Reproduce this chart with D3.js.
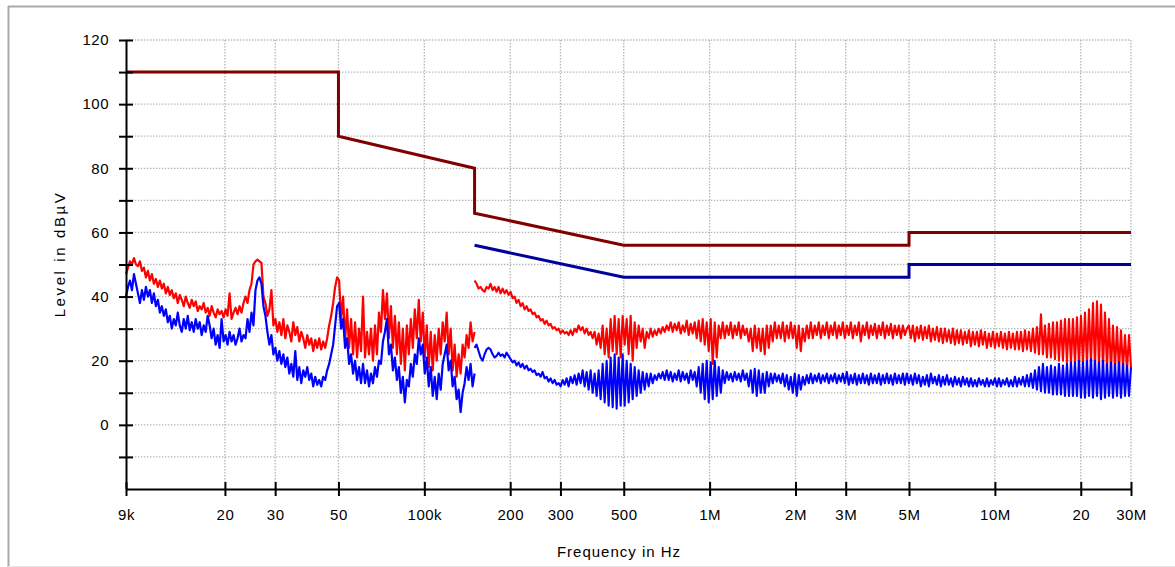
<!DOCTYPE html>
<html>
<head>
<meta charset="utf-8">
<script src="https://cdn.jsdelivr.net/npm/d3@7"></script>
<style>
  html, body { margin: 0; padding: 0; background: #fff; }
  svg { display: block; }
  text { font-family: "Liberation Sans", Arial, sans-serif; fill: #000; }
</style>
</head>
<body>
<svg id="chart" width="1175" height="567"></svg>
<script>
// ---- Frequency axis ------------------------------------------------------
const freqTicksHz = [9e3, 2e4, 3e4, 5e4, 1e5, 2e5, 3e5, 5e5, 1e6, 2e6, 3e6, 5e6, 1e7, 2e7, 3e7];
const freqTickLabels = ["9k", "20", "30", "50", "100k", "200", "300", "500", "1M", "2M", "3M", "5M", "10M", "20", "30M"];

// ---- Level axis ----------------------------------------------------------
const levelTicks = [-10, 0, 10, 20, 30, 40, 50, 60, 70, 80, 90, 100, 110, 120];
const levelTickLabels = ["", "0", "", "20", "", "40", "", "60", "", "80", "", "100", "", "120"];

// ---- Limit lines (CISPR class B conducted) -------------------------------
const qpLimitKHz = [9, 50, 50, 150, 150, 500, 5000, 5000, 30000];
const qpLimitDb  = [110, 110, 90, 80, 66, 56, 56, 60, 60];
const avLimitKHz = [150, 500, 5000, 5000, 30000];
const avLimitDb  = [56, 46, 46, 50, 50];

// ---- Sweeps: levels sampled on a log-spaced frequency grid per band -----
const lowBandKHz  = [9, 150];
const highBandKHz = [150, 30000];

// peak detector, 9 kHz .. 150 kHz
const peakLowDb = [
  47, 49, 51, 50, 52, 50, 49.5, 51, 48, 49,
  46, 48, 45, 47, 44, 45.5, 43, 45, 42.5, 44,
  41, 43, 40.5, 42, 39.5, 41, 38, 40.5, 39, 37,
  40, 38, 36.5, 39, 37, 38.5, 35.5, 37, 36, 38,
  35, 36.5, 34, 37, 35, 33.5, 36, 34.5, 35.5, 33.5,
  36, 34, 41, 33, 35, 36.5, 34.5, 37, 35, 38,
  40, 38, 42, 44, 50, 51, 51.5, 51, 50.5, 40,
  38, 34, 36, 42, 31, 33, 29, 32, 28, 33,
  27, 31, 29, 26, 32, 28, 30.5, 26, 29, 27,
  24, 28, 25, 27, 23, 26.5, 24, 27, 23.5, 26,
  24, 27, 31, 34, 38, 43, 46, 45, 33, 40,
  26, 36, 24, 33, 22, 32, 21, 30, 23, 40,
  21, 29, 22, 30, 20, 31, 22, 35, 29, 42,
  33, 41, 27, 37, 24, 34, 22, 32, 19, 30,
  17, 31, 22, 33, 24, 36, 27, 39, 26, 35,
  21, 31, 18, 29, 17, 28, 20, 30, 22, 32,
  26, 35, 22, 30, 17, 25, 15, 22, 16, 25,
  21, 28, 24, 32, 26, 29
];

// average detector, 9 kHz .. 150 kHz
const avgLowDb = [
  40, 43, 45, 42, 47, 44, 41, 38, 42, 39,
  43, 40, 42, 38, 41, 37, 39, 35, 37, 34,
  36, 32, 34, 30, 33, 31, 35, 31, 29, 33,
  30, 34, 29.5, 32, 29, 33, 30, 32, 28, 31,
  29, 34, 31, 27, 30, 25, 28, 24, 33, 26,
  28, 25, 29, 26, 28, 25, 27, 30, 26, 28,
  27, 33, 29, 35, 31, 42, 45, 46, 44, 37,
  34, 29, 25, 28, 22, 24, 20, 23, 19, 22,
  18, 21, 16, 19, 15, 23, 14, 18, 13, 17,
  15, 18, 14, 16, 12, 15, 12.5, 14, 12, 15,
  14, 17, 19, 22, 25, 31, 37, 38, 30, 33,
  24, 27, 19, 22, 16, 20, 14, 18, 13, 19,
  13, 17, 12, 16, 13, 18, 15, 20, 19, 26,
  29, 33, 22, 25, 17, 21, 14, 18, 10, 15,
  7, 14, 12, 19, 15, 22, 19, 27, 22, 25,
  16, 21, 12, 18, 9, 15, 8, 16, 11, 19,
  22, 25, 17, 20, 12, 15, 8, 11, 4, 10,
  13, 18, 14, 19, 12, 16
];

// peak detector, 150 kHz .. 30 MHz
const peakHighDb = [
  45, 44, 42.5, 43, 42, 41.5, 43, 42.5, 44, 42,
  43, 41.5, 43, 41, 42.5, 41, 42, 40.5, 41.5, 39.5,
  40, 38, 39, 37, 38, 36, 37, 35.5, 36, 34.5,
  35, 33.5, 34, 32.5, 33, 31.5, 32.5, 31, 31.5, 30,
  30.5, 29.5, 30, 28.5, 29.5, 28.5, 29, 28, 29.5, 28,
  30, 29, 31, 29.5, 30.5, 28.5, 30, 28, 29, 27,
  29, 25, 28.5, 24, 31, 22, 30, 21, 33, 23,
  34, 22, 33, 21, 34, 25, 33, 22, 34, 20,
  32, 24, 31, 26, 30, 24, 29, 27, 30, 27.5,
  29.5, 28, 30, 28.5, 30.5, 29, 31, 29.5, 32, 29,
  31.5, 29.5, 32, 28.5, 31, 29, 32.5, 28, 31.5, 28.5,
  32, 27, 32.5, 26, 33, 25, 32, 23, 33, 19,
  32, 21, 31, 27, 32, 27, 31, 28, 32, 27,
  31, 28, 32, 27, 31, 28, 30, 26, 30, 23,
  31, 24, 30, 23, 30, 22, 31, 24, 31, 26,
  32, 27, 31, 27, 32, 26, 31, 27, 32, 27,
  31, 24, 31, 23, 30, 26, 31, 27, 32, 27,
  31, 28, 32, 27, 31, 28, 32, 27, 31, 28,
  32, 27, 31, 28, 32, 27, 31, 28, 32, 27,
  31, 28, 32, 26, 31, 28, 32, 27, 31, 28,
  31.5, 27, 31, 28, 32, 27, 31, 28, 31.5, 27,
  31, 28, 31, 27, 31, 28, 30, 31, 27, 31,
  26, 30.5, 27, 31, 26.5, 30.5, 27, 31, 26, 30,
  26.5, 30.5, 26, 30, 25.5, 30, 26, 29.5, 25.5, 30,
  25, 29.5, 25.5, 29.5, 25, 29, 25.5, 29.5, 24.5, 29,
  25, 29, 24.5, 29.5, 25, 29, 24, 28.5, 24.5, 29,
  24, 28.5, 24.5, 29, 24, 28.5, 23.5, 29, 24, 28.5,
  23.5, 29, 23.5, 29, 23, 29.5, 23.5, 29, 23, 30,
  22.5, 30.5, 22, 34.5, 22, 31, 21, 31.5, 21, 32,
  20.5, 32, 20, 32.5, 20, 33, 19.5, 33, 19, 33,
  19, 33.5, 18.5, 34, 19, 35, 18.5, 36, 19, 38,
  18, 38.5, 18, 37.5, 17.5, 35, 17.5, 33, 17, 31,
  17.5, 30.5, 17, 29.5, 17.5, 28, 17, 28, 18
];

// average detector, 150 kHz .. 30 MHz
const avgHighDb = [
  24, 25, 23, 21, 20, 22, 23.5, 24, 23.5, 22,
  21, 21.5, 22.5, 21.5, 22, 21, 22.5, 21.5, 20.5, 19.5,
  20, 18.5, 19.5, 18, 19, 17.5, 18.5, 17, 17.5, 16.5,
  17, 15.5, 16, 15, 16.5, 14.5, 15, 13.5, 14.5, 13,
  14, 12.5, 13, 12, 14, 12.5, 14.5, 12, 15, 13,
  15.5, 12.5, 16, 13, 17, 12, 16.5, 11, 17, 10,
  16, 9, 17, 8, 19, 7, 20, 6, 21, 5.5,
  22, 5, 21, 6, 22, 6, 20, 7, 19, 8,
  18, 9, 17, 10, 16.5, 11, 16, 12, 16, 13,
  15.5, 14, 16, 14.5, 16.5, 14, 17, 14, 16.5, 13.5,
  16, 14, 17, 13.5, 16.5, 14, 16, 13, 17, 14,
  16.5, 12, 18, 10, 19, 8, 20, 7, 19.5, 8,
  20, 9, 18, 10, 17, 13, 16.5, 14, 16, 13.5,
  16.5, 14, 16, 13.5, 17, 14, 16, 12, 17, 10,
  17.5, 9, 17, 10, 16, 10, 16.5, 12, 16, 13,
  16, 13.5, 15.5, 13, 16, 12, 15.5, 11, 15, 10,
  16, 9, 15.5, 11, 15, 12.5, 15.5, 13, 16, 13,
  15.5, 13.5, 16, 13, 15.5, 13.5, 16, 13, 15.5, 13.5,
  16, 13, 15.5, 13.5, 16, 13, 16.5, 12.5, 15.5, 13,
  16, 12.5, 15.5, 13, 16, 13, 15.5, 12.5, 16, 13,
  15.5, 13, 16, 12.5, 15.5, 13, 16, 13, 15.5, 12.5,
  16, 13, 15.5, 13, 16, 12.5, 16, 13, 15.5, 12.5,
  16, 13, 15.5, 12, 15, 12.5, 15.5, 12, 16, 13,
  15, 12.5, 15.5, 12, 15, 12.5, 15.5, 12.5, 14.5, 12,
  15, 12.5, 14.5, 12, 15, 12.5, 14.5, 12, 14.5, 12,
  14, 12, 14.5, 12.5, 14, 12, 14.5, 12, 14, 12.5,
  14.5, 12, 14.5, 12, 14, 12.5, 14.5, 12, 14, 12,
  15, 12, 14.5, 12.5, 15, 12, 15.5, 12, 16, 11.5,
  17, 11, 18, 10.5, 19, 10, 18, 10, 18.5, 9.5,
  18, 9.5, 19, 9.5, 18.5, 9, 19, 9, 19.5, 9,
  19.5, 9, 20, 8.5, 19.5, 8.5, 20, 9, 20.5, 8.5,
  20, 9, 19.5, 8, 20, 8.5, 19, 9, 19.5, 8.5,
  19, 9, 19.5, 8.5, 19, 9, 18.5, 9, 18
];

// ---- Layout --------------------------------------------------------------
const svg = d3.select("#chart");
const plotLeft = 126, plotRight = 1131, plotTop = 40, plotBottom = 489;

const x = d3.scaleLog().domain([9e3, 30e6]).range([plotLeft, plotRight]);
const y = d3.scaleLinear().domain([-20, 120]).range([plotBottom, plotTop]);

// window frame
svg.append("line").attr("x1", 8.5).attr("x2", 8.5).attr("y1", 6).attr("y2", 567)
  .attr("stroke", "#a9a9a9").attr("stroke-width", 2);
svg.append("line").attr("x1", 8).attr("x2", 1175).attr("y1", 6.5).attr("y2", 6.5)
  .attr("stroke", "#a9a9a9").attr("stroke-width", 2);
svg.append("line").attr("x1", 8).attr("x2", 1175).attr("y1", 566.5).attr("y2", 566.5)
  .attr("stroke", "#e6e6e6").attr("stroke-width", 1);

// dotted grid
const grid = svg.append("g").attr("stroke", "#b5b5b5").attr("stroke-width", 1.3)
  .attr("stroke-dasharray", "1.4,1.6").attr("fill", "none");
grid.selectAll("line.h").data(levelTicks).join("line")
  .attr("x1", plotLeft).attr("x2", plotRight)
  .attr("y1", d => y(d)).attr("y2", d => y(d));
grid.selectAll("line.v").data(freqTicksHz.slice(1)).join("line")
  .attr("x1", d => x(d)).attr("x2", d => x(d))
  .attr("y1", plotTop).attr("y2", plotBottom);

// sweep points on a log-spaced grid
function sweep(bandKHz, levels) {
  const f0 = bandKHz[0] * 1e3, f1 = bandKHz[1] * 1e3, n = levels.length;
  return levels.map((v, i) => ({ f: f0 * Math.pow(f1 / f0, i / (n - 1)), v }));
}
const line = d3.line().x(d => x(d.f)).y(d => y(d.v));

function trace(data, color, width) {
  svg.append("path").datum(data).attr("d", line)
    .attr("fill", "none").attr("stroke", color).attr("stroke-width", width)
    .attr("stroke-linejoin", "round");
}
trace(sweep(lowBandKHz, peakLowDb), "#ff0000", 2.2);
trace(sweep(highBandKHz, peakHighDb), "#ff0000", 2.1);
trace(sweep(lowBandKHz, avgLowDb), "#0000ff", 2.2);
trace(sweep(highBandKHz, avgHighDb), "#0000ff", 2.1);

// limit lines
const limitLine = d3.line().x(d => x(d[0] * 1e3)).y(d => y(d[1]));
svg.append("path").datum(qpLimitKHz.map((f, i) => [f, qpLimitDb[i]]))
  .attr("d", limitLine).attr("fill", "none").attr("stroke", "#800000").attr("stroke-width", 3);
svg.append("path").datum(avLimitKHz.map((f, i) => [f, avLimitDb[i]]))
  .attr("d", limitLine).attr("fill", "none").attr("stroke", "#00009c").attr("stroke-width", 3);

// axes
const yAxis = d3.axisLeft(y).tickValues(levelTicks)
  .tickFormat((d, i) => levelTickLabels[i]).tickSizeInner(7).tickSizeOuter(0);
const gy = svg.append("g").attr("transform", `translate(${plotLeft},0)`).call(yAxis);
gy.select(".domain").attr("d", `M0.5,${y(120)}V${y(-20)}`);
gy.selectAll(".tick line").attr("x1", 7);
gy.selectAll(".tick text").attr("x", -17).attr("font-size", 15)
  .attr("font-family", "Liberation Sans, Arial, sans-serif").attr("letter-spacing", 0.5);

const xAxis = d3.axisBottom(x).tickValues(freqTicksHz)
  .tickFormat((d, i) => freqTickLabels[i]).tickSizeInner(7).tickSizeOuter(0);
const gx = svg.append("g").attr("transform", `translate(0,${plotBottom})`).call(xAxis);
gx.select(".domain").attr("d", `M${plotLeft},0.5H${plotRight}`);
gx.selectAll(".tick line").attr("y1", -7);
gx.selectAll(".tick text").attr("y", 20).attr("dy", "0.71em").attr("font-size", 15)
  .attr("font-family", "Liberation Sans, Arial, sans-serif").attr("letter-spacing", 0.5);

[gx, gy].forEach(g => {
  g.selectAll(".domain, .tick line").attr("stroke", "#000").attr("stroke-width", 2);
});

// axis titles
svg.append("text").attr("x", 619).attr("y", 557).attr("text-anchor", "middle")
  .attr("font-size", 15).attr("letter-spacing", 1).text("Frequency in Hz");
svg.append("text").attr("transform", "translate(65,254) rotate(-90)")
  .attr("text-anchor", "middle").attr("font-size", 15).attr("letter-spacing", 2.6)
  .text("Level in dBµV");
</script>
</body>
</html>
